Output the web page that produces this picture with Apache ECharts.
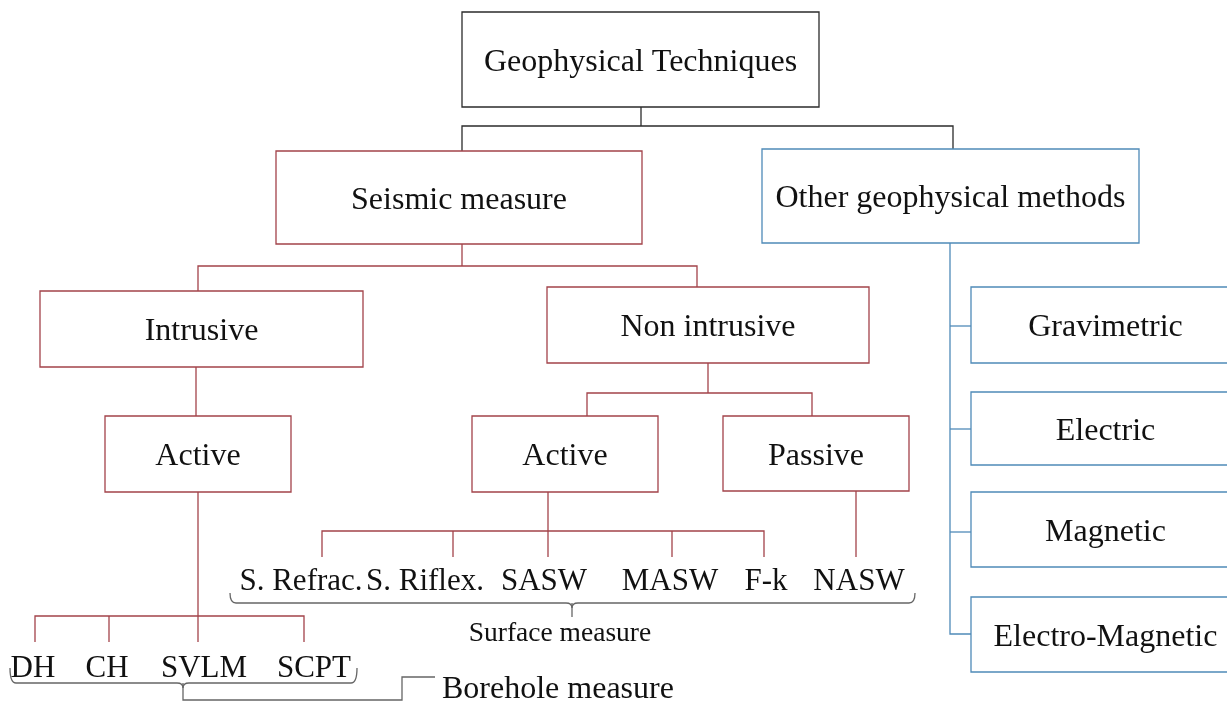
<!DOCTYPE html>
<html>
<head>
<meta charset="utf-8">
<script src="https://cdn.jsdelivr.net/npm/echarts@6/dist/echarts.min.js"></script>
<style>
  html, body { margin: 0; padding: 0; background: #fff; }
  #main { width: 1227px; height: 702px; }
</style>
</head>
<body>
<div id="main"></div>
<script>
// boxes of the tree (page coordinates, y goes down)
var boxNames = ['Geophysical Techniques', 'Seismic measure', 'Other geophysical methods',
    'Intrusive', 'Non intrusive', 'Active', 'Active', 'Passive',
    'Gravimetric', 'Electric', 'Magnetic', 'Electro-Magnetic'];
var boxLeft   = [462, 276, 762, 40, 547, 105, 472, 723, 971, 971, 971, 971];
var boxTop    = [12, 151, 149, 291, 287, 416, 416, 416, 287, 392, 492, 597];
var boxRight  = [819, 642, 1139, 363, 869, 291, 658, 909, 1240, 1240, 1240, 1240];
var boxBottom = [107, 244, 243, 367, 363, 492, 492, 491, 363, 465, 567, 672];
var boxGroup  = ['root', 'seis', 'other', 'seis', 'seis', 'seis', 'seis', 'seis',
    'other', 'other', 'other', 'other'];

// connectors
var blackLinks = [
    [[641, 107], [641, 126]],
    [[462, 151], [462, 126], [953, 126], [953, 149]]
];
var redLinks = [
    [[462, 244], [462, 266]],
    [[198, 291], [198, 266], [697, 266], [697, 287]],
    [[196, 367], [196, 416]],
    [[708, 363], [708, 393]],
    [[587, 416], [587, 393], [812, 393], [812, 416]],
    [[198, 492], [198, 642]],
    [[35, 642], [35, 616], [304, 616], [304, 642]],
    [[109, 616], [109, 642]],
    [[548, 492], [548, 557]],
    [[322, 557], [322, 531], [764, 531], [764, 557]],
    [[453, 531], [453, 557]],
    [[672, 531], [672, 557]],
    [[856, 491], [856, 557]]
];
var blueLinks = [
    [[950, 243], [950, 634], [971, 634]],
    [[950, 326], [971, 326]],
    [[950, 429], [971, 429]],
    [[950, 532], [971, 532]]
];
var greyLinks = [
    [[183, 683], [183, 700], [402, 700], [402, 677], [435, 677]],
    [[572, 603], [572, 617]]
];

// braces: left, right, end height, line height, middle
var braces = [
    [230, 915, 593, 603, 572],
    [10, 357, 668, 683, 183]
];

// loose labels
var labelNames = ['S. Refrac.', 'S. Riflex.', 'SASW', 'MASW', 'F-k', 'NASW',
    'Surface measure', 'DH', 'CH', 'SVLM', 'SCPT', 'Borehole measure'];
var labelX = [301, 425, 544, 670, 766, 859, 560, 33, 107, 204, 314, 442];
var labelY = [582, 582, 582, 582, 582, 582, 634, 669, 669, 669, 669, 690];
var labelSize = [31, 31, 31, 31, 31, 31, 27.5, 31, 31, 31, 31, 32];
var labelAlign = ['center', 'center', 'center', 'center', 'center', 'center',
    'center', 'center', 'center', 'center', 'center', 'left'];

var colors = { root: '#2b2b2b', seis: '#a3434a', other: '#4f8ab8' };
var serif = "'Liberation Serif', 'Times New Roman', serif";

var boxData = [];
for (var i = 0; i < boxNames.length; i++) {
    boxData.push([boxLeft[i], boxTop[i], boxRight[i], boxBottom[i]]);
}
var labelData = [];
for (var i = 0; i < labelNames.length; i++) {
    labelData.push([labelX[i], labelY[i]]);
}

function linkSeries(list, color) {
    return {
        type: 'lines',
        coordinateSystem: 'cartesian2d',
        polyline: true,
        silent: true,
        lineStyle: { color: color, width: 1.3, opacity: 1 },
        data: list.map(function (c) { return { coords: c }; })
    };
}

var chart = echarts.init(document.getElementById('main'));
chart.setOption({
    backgroundColor: '#fff',
    animation: false,
    grid: { left: 0, right: 0, top: 0, bottom: 0 },
    xAxis: { type: 'value', min: 0, max: 1227, show: false },
    yAxis: { type: 'value', min: 0, max: 702, inverse: true, show: false },
    series: [
        linkSeries(blackLinks, colors.root),
        linkSeries(redLinks, colors.seis),
        linkSeries(blueLinks, colors.other),
        linkSeries(greyLinks, '#666'),
        {
            type: 'custom',
            silent: true,
            clip: false,
            data: braces,
            renderItem: function (params, api) {
                var a = api.coord([api.value(0), api.value(2)]);
                var b = api.coord([api.value(0), api.value(3)]);
                var m = api.coord([api.value(4), api.value(3)]);
                var e = api.coord([api.value(1), api.value(3)]);
                var f = api.coord([api.value(1), api.value(2)]);
                var r = 6;
                var d = 'M' + a[0] + ' ' + a[1] +
                    ' Q' + b[0] + ' ' + b[1] + ' ' + (b[0] + r) + ' ' + b[1] +
                    ' L' + (m[0] - r) + ' ' + m[1] +
                    ' Q' + m[0] + ' ' + m[1] + ' ' + m[0] + ' ' + (m[1] + 5) +
                    ' Q' + m[0] + ' ' + m[1] + ' ' + (m[0] + r) + ' ' + m[1] +
                    ' L' + (e[0] - r) + ' ' + e[1] +
                    ' Q' + e[0] + ' ' + e[1] + ' ' + f[0] + ' ' + f[1];
                return {
                    type: 'path',
                    shape: { pathData: d },
                    style: { fill: 'none', stroke: '#666', lineWidth: 1.3 }
                };
            }
        },
        {
            type: 'custom',
            silent: true,
            clip: false,
            data: boxData,
            renderItem: function (params, api) {
                var i = params.dataIndex;
                var p0 = api.coord([api.value(0), api.value(1)]);
                var p1 = api.coord([api.value(2), api.value(3)]);
                return {
                    type: 'group',
                    children: [{
                        type: 'rect',
                        shape: { x: p0[0], y: p0[1], width: p1[0] - p0[0], height: p1[1] - p0[1] },
                        style: { fill: '#fff', stroke: colors[boxGroup[i]], lineWidth: 1.3 }
                    }, {
                        type: 'text',
                        x: (p0[0] + p1[0]) / 2,
                        y: (p0[1] + p1[1]) / 2 + 3,
                        style: {
                            text: boxNames[i],
                            font: '32px ' + serif,
                            fill: '#111',
                            align: 'center',
                            verticalAlign: 'middle'
                        }
                    }]
                };
            }
        },
        {
            type: 'custom',
            silent: true,
            clip: false,
            data: labelData,
            renderItem: function (params, api) {
                var i = params.dataIndex;
                var p = api.coord([api.value(0), api.value(1)]);
                return {
                    type: 'text',
                    x: p[0],
                    y: p[1],
                    style: {
                        text: labelNames[i],
                        font: labelSize[i] + 'px ' + serif,
                        fill: '#111',
                        align: labelAlign[i],
                        verticalAlign: 'middle'
                    }
                };
            }
        }
    ]
});
</script>
</body>
</html>
